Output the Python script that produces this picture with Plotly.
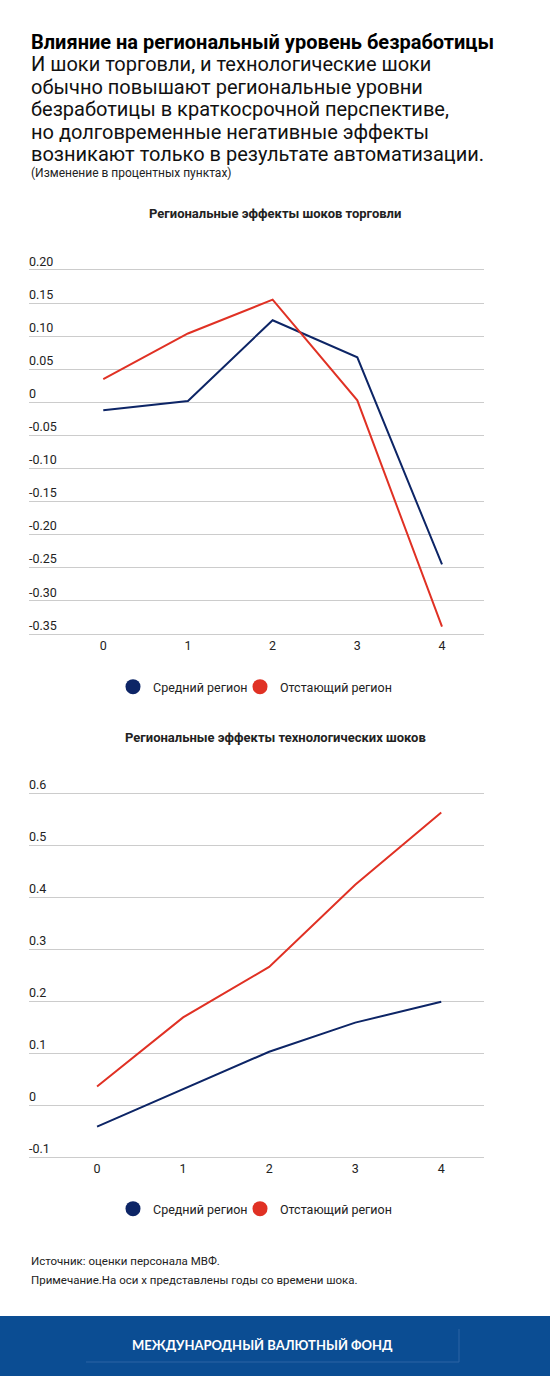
import plotly.graph_objects as go

W, H = 550, 1376

years = [0, 1, 2, 3, 4]
trade_avg = [-0.012, 0.002, 0.124, 0.068, -0.245]
trade_lag = [0.035, 0.104, 0.155, 0.003, -0.339]
tech_avg = [-0.041, 0.031, 0.103, 0.159, 0.199]
tech_lag = [0.036, 0.169, 0.266, 0.424, 0.563]

trade_ticks = [0.20, 0.15, 0.10, 0.05, 0, -0.05, -0.10, -0.15, -0.20, -0.25, -0.30, -0.35]
trade_ticktext = ["0.20", "0.15", "0.10", "0.05", "0", "-0.05", "-0.10", "-0.15", "-0.20", "-0.25", "-0.30", "-0.35"]
tech_ticks = [0.6, 0.5, 0.4, 0.3, 0.2, 0.1, 0, -0.1]
tech_ticktext = ["0.6", "0.5", "0.4", "0.3", "0.2", "0.1", "0", "-0.1"]

names = ["Средний регион", "Отстающий регион"]
NAVY = "#0d2566"
RED = "#e03124"
FONT = "Roboto"


def py(px):
    # pixel row -> paper y
    return 1 - px / H


def px_x(px):
    return px / W


fig = go.Figure()

# chart 1 lines
fig.add_trace(go.Scatter(x=years, y=trade_avg, mode="lines", line=dict(color=NAVY, width=2),
                         xaxis="x", yaxis="y", showlegend=False, hoverinfo="skip"))
fig.add_trace(go.Scatter(x=years, y=trade_lag, mode="lines", line=dict(color=RED, width=2),
                         xaxis="x", yaxis="y", showlegend=False, hoverinfo="skip"))
# chart 2 lines
fig.add_trace(go.Scatter(x=years, y=tech_avg, mode="lines", line=dict(color=NAVY, width=2),
                         xaxis="x2", yaxis="y2", showlegend=False, hoverinfo="skip"))
fig.add_trace(go.Scatter(x=years, y=tech_lag, mode="lines", line=dict(color=RED, width=2),
                         xaxis="x2", yaxis="y2", showlegend=False, hoverinfo="skip"))

# legend dots, one legend box per item so the spacing can be matched
legend_ids = [["legend", "legend2"], ["legend3", "legend4"]]
for k, (xa, ya) in enumerate([("x", "y"), ("x2", "y2")]):
    for nm, col, lg in zip(names, [NAVY, RED], legend_ids[k]):
        fig.add_trace(go.Scatter(x=[None], y=[None], mode="markers", name=nm,
                                 marker=dict(size=15, color=col), xaxis=xa, yaxis=ya, legend=lg))

# chart 1 geometry: 0 at row 402.3, 662 px per unit
y1_lo, y1_hi = -0.36, 0.24
y1_dom = [py(402.3 - y1_lo * 662), py(402.3 - y1_hi * 662)]
# chart 2 geometry: 0 at row 1105.3, 520 px per unit
y2_lo, y2_hi = -0.11, 0.65
y2_dom = [py(1105.3 - y2_lo * 520), py(1105.3 - y2_hi * 520)]

xdom = [px_x(29), px_x(484)]

yax = dict(showgrid=True, gridcolor="#cccccc", gridwidth=1, zeroline=False, showline=False,
           ticks="", ticklabelposition="inside top", ticklabelstandoff=-3,
           tickfont=dict(family=FONT, size=12.5, color="#222222"), fixedrange=True)
xax = dict(showgrid=False, zeroline=False, showline=False, ticks="", tickmode="array", tickvals=years,
           tickfont=dict(family=FONT, size=12.5, color="#222222"), fixedrange=True)

leg = dict(orientation="h", xanchor="left", yanchor="middle",
           font=dict(family=FONT, size=12.5, color="#222222"), itemsizing="trace",
           bgcolor="rgba(0,0,0,0)")

fig.update_layout(
    width=W, height=H,
    margin=dict(l=0, r=0, t=0, b=0),
    paper_bgcolor="white", plot_bgcolor="white",
    font=dict(family=FONT, color="#222222"),
    xaxis=dict(xax, domain=xdom, range=[-0.877, 4.496], anchor="y", ticklabelstandoff=-4),
    yaxis=dict(yax, domain=y1_dom, range=[y1_lo, y1_hi], tickmode="array",
               tickvals=trade_ticks, ticktext=trade_ticktext, anchor="x"),
    xaxis2=dict(xax, domain=xdom, range=[-0.791, 4.497], anchor="y2", ticklabelstandoff=-3),
    yaxis2=dict(yax, domain=y2_dom, range=[y2_lo, y2_hi], tickmode="array",
                tickvals=tech_ticks, ticktext=tech_ticktext, anchor="x2"),
    legend=dict(leg, x=px_x(113), y=py(687)),
    legend2=dict(leg, x=px_x(240), y=py(687)),
    legend3=dict(leg, x=px_x(113), y=py(1209)),
    legend4=dict(leg, x=px_x(240), y=py(1209)),
)

# header text
ann = []
ann.append(dict(text="<b>Влияние на региональный уровень безработицы</b>", x=px_x(29), y=py(42),
                font=dict(size=20, color="#000000")))
sub_lines = [
    "И шоки торговли, и технологические шоки",
    "обычно повышают региональные уровни",
    "безработицы в краткосрочной перспективе,",
    "но долговременные негативные эффекты",
    "возникают только в результате автоматизации.",
]
for i, line in enumerate(sub_lines):
    ann.append(dict(text=line, x=px_x(29), y=py(64 + 22.6 * i), font=dict(size=20, color="#111111")))
ann.append(dict(text="(Изменение в процентных пунктах)", x=px_x(29), y=py(173),
                font=dict(size=12, color="#222222")))
for a in ann:
    a.update(xref="paper", yref="paper", xanchor="left", yanchor="middle", showarrow=False)

# chart titles
for txt, yy in [("Региональные эффекты шоков торговли", 214),
                ("Региональные эффекты технологических шоков", 737)]:
    ann.append(dict(text="<b>" + txt + "</b>", x=0.5, y=py(yy), xref="paper", yref="paper",
                    xanchor="center", yanchor="middle", showarrow=False,
                    font=dict(size=13, color="#222222")))

# footer notes
for txt, yy in [("Источник: оценки персонала МВФ.", 1261),
                ("Примечание.На оси x представлены годы со времени шока.", 1280)]:
    ann.append(dict(text=txt, x=px_x(29), y=py(yy), xref="paper", yref="paper",
                    xanchor="left", yanchor="middle", showarrow=False,
                    font=dict(size=11.5, color="#222222")))

# band text
ann.append(dict(text="<b>МЕЖДУНАРОДНЫЙ ВАЛЮТНЫЙ ФОНД</b>", x=px_x(262), y=py(1345), xref="paper", yref="paper",
                xanchor="center", yanchor="middle", showarrow=False,
                font=dict(family="Lato, Roboto", size=13, color="white")))
fig.update_layout(annotations=ann)

# blue band at the bottom
fig.add_shape(type="rect", xref="paper", yref="paper", x0=0, x1=1, y0=0, y1=py(1316),
              fillcolor="#0b4d93", line=dict(width=0), layer="below")
fig.add_shape(type="line", xref="paper", yref="paper", x0=px_x(86), x1=px_x(459), y0=py(1362), y1=py(1362),
              line=dict(color="#2c64a4", width=1))
fig.add_shape(type="line", xref="paper", yref="paper", x0=px_x(459), x1=px_x(459), y0=py(1329), y1=py(1362),
              line=dict(color="#2c64a4", width=1))

fig.write_html("out.html", config={"displayModeBar": False},
               post_script="document.body.style.margin='0';document.body.style.overflow='hidden';")
